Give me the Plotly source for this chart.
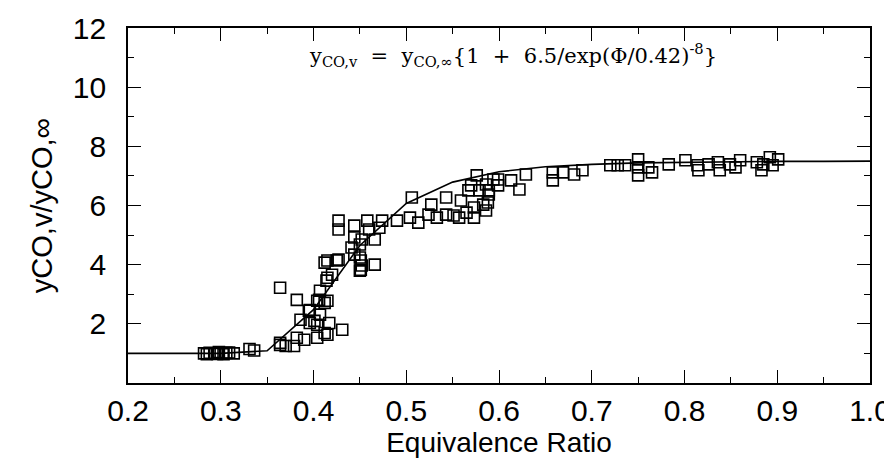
import plotly.graph_objects as go

# Measured data (equivalence ratio, normalised CO)
phi = [0.282, 0.285, 0.288, 0.293, 0.296, 0.298, 0.303, 0.306, 0.309, 0.314, 0.331, 0.336,
       0.364, 0.379, 0.364, 0.382, 0.390, 0.395, 0.401, 0.404, 0.415, 0.431, 0.404, 0.407,
       0.412, 0.425, 0.451, 0.451, 0.414, 0.420, 0.406, 0.412, 0.396, 0.407, 0.386, 0.396,
       0.404, 0.417, 0.412, 0.382, 0.364, 0.370, 0.415, 0.415, 0.415, 0.427,
       0.427, 0.427, 0.444, 0.458, 0.474, 0.460, 0.471, 0.490, 0.444, 0.452, 0.466, 0.441,
       0.450, 0.444, 0.450, 0.452, 0.466, 0.450,
       0.506, 0.504, 0.513, 0.527, 0.524, 0.533, 0.543, 0.543, 0.551, 0.557, 0.565, 0.559,
       0.576, 0.570, 0.567, 0.579, 0.589, 0.583, 0.573, 0.573, 0.594, 0.586, 0.589, 0.588,
       0.586, 0.599, 0.599, 0.613, 0.622, 0.629, 0.658, 0.658, 0.669, 0.681, 0.690,
       0.720, 0.728, 0.736, 0.750, 0.750, 0.750, 0.761, 0.765, 0.783, 0.801, 0.814, 0.815,
       0.826, 0.836, 0.838, 0.849, 0.860, 0.855, 0.878, 0.883, 0.892, 0.901, 0.895, 0.885]
yco = [1.00, 0.97, 1.02, 1.00, 0.98, 1.05, 0.97, 1.02, 1.03, 1.00, 1.15, 1.10,
       1.29, 1.25, 3.22, 2.81, 1.46, 2.44, 2.10, 1.53, 1.63, 1.80, 2.78, 3.12,
       4.07, 4.14, 3.83, 4.14, 3.46, 3.66, 2.81, 2.71, 2.47, 2.31, 2.14, 2.03,
       1.97, 2.03, 1.69, 1.53, 1.36, 1.25, 3.56, 2.78, 4.14, 4.17,
       5.49, 5.19, 5.32, 5.49, 5.49, 5.19, 5.25, 5.49, 4.92, 4.85, 4.85, 4.58,
       4.68, 4.34, 4.24, 3.97, 4.00, 3.80,
       6.27, 5.59, 5.42, 6.03, 5.69, 5.59, 6.27, 5.69, 5.66, 5.59, 5.76, 6.17,
       7.02, 6.68, 6.51, 6.51, 6.51, 6.03, 5.93, 5.59, 6.88, 6.71, 6.37, 6.10,
       5.83, 6.88, 6.68, 6.85, 6.54, 7.05, 7.12, 6.85, 7.12, 7.05, 7.19,
       7.36, 7.36, 7.36, 7.56, 7.29, 7.02, 7.29, 7.12, 7.39, 7.53, 7.36, 7.19,
       7.39, 7.46, 7.19, 7.39, 7.53, 7.29, 7.46, 7.19, 7.63, 7.56, 7.36, 7.39]

# Correlation curve
fit_phi = [0.20, 0.25, 0.30, 0.35, 0.40, 0.45, 0.50, 0.55, 0.60, 0.65, 0.70, 0.75,
           0.80, 0.85, 0.90, 0.95, 1.00]
fit_y = [1.00, 1.00, 1.00, 1.09, 2.48, 4.65, 6.07, 6.79, 7.14, 7.31, 7.39, 7.44,
         7.46, 7.48, 7.49, 7.49, 7.50]

x_ticks = [0.2, 0.3, 0.4, 0.5, 0.6, 0.7, 0.8, 0.9, 1.0]
x_tick_text = ["0.2", "0.3", "0.4", "0.5", "0.6", "0.7", "0.8", "0.9", "1.0"]
y_ticks = [2, 4, 6, 8, 10, 12]
y_tick_text = ["2", "4", "6", "8", "10", "12"]

fig = go.Figure()
fig.add_trace(go.Scatter(x=fit_phi, y=fit_y, mode="lines",
                         line=dict(color="black", width=1.6), showlegend=False))
fig.add_trace(go.Scatter(x=phi, y=yco, mode="markers",
                         marker=dict(symbol="square-open", size=11, color="black",
                                     line=dict(width=1.6, color="black")),
                         showlegend=False))

sans = "Liberation Sans, Arial, sans-serif"
axis_font = dict(family=sans, size=30, color="black")

fig.update_layout(
    width=892, height=460,
    margin=dict(l=120, r=30, t=20, b=85),
    paper_bgcolor="white", plot_bgcolor="white",
    xaxis=dict(range=[0.2, 1.0], tickvals=x_ticks, ticktext=x_tick_text,
               automargin=False,
               ticks="inside", ticklen=13, tickwidth=1.3, tickcolor="black",
               minor=dict(dtick=0.05, ticks="inside", ticklen=6, tickwidth=1.2,
                          tickcolor="black", showgrid=False),
               showline=True, linecolor="black", linewidth=1.8, mirror="ticks",
               showgrid=False, zeroline=False, tickfont=axis_font,
               ticklabelstandoff=0,
               title=dict(text="Equivalence Ratio", standoff=2,
                          font=dict(family=sans, size=28, color="black"))),
    yaxis=dict(range=[0, 12], tickvals=y_ticks, ticktext=y_tick_text,
               automargin=False,
               ticks="inside", ticklen=13, tickwidth=1.3, tickcolor="black",
               minor=dict(dtick=1, ticks="inside", ticklen=6, tickwidth=1.2,
                          tickcolor="black", showgrid=False),
               showline=True, linecolor="black", linewidth=1.8, mirror="ticks",
               showgrid=False, zeroline=False, tickfont=axis_font,
               ticklabelstandoff=14,
               title=dict(text="yCO,v/yCO,∞", standoff=12,
                          font=dict(family=sans, size=29, color="black"))),
    annotations=[dict(
        x=0.615, y=11.1, xref="x", yref="y", showarrow=False,
        text="y<sub>CO,v</sub>\u00a0\u00a0=\u00a0\u00a0y<sub>CO,∞</sub>{1\u00a0\u00a0+\u00a0\u00a06.5/exp(Φ/0.42)<sup>-8</sup>}",
        font=dict(family="DejaVu Serif, Liberation Serif, serif", size=21, color="black"))],
)

fig.write_html("out.html")
